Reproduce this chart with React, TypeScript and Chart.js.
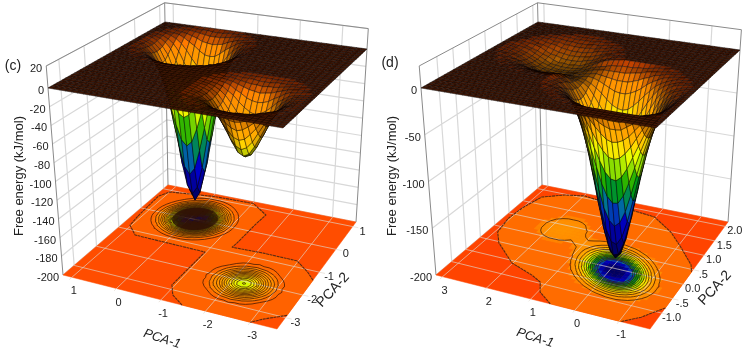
import React, { useEffect, useRef } from "react";
import { Chart, registerables } from "chart.js";
Chart.register(...registerables);

// ---------- axis ticks ----------
const zTicksC = [20, 0, -20, -40, -60, -80, -100, -120, -140, -160, -180, -200];
const zTicksD = [0, -50, -100, -150, -200];
const pca1TicksC = [1, 0, -1, -2, -3];
const pca2TicksC = [1, 0, -1, -2, -3];
const pca1TicksD = [3, 2, 1, 0, -1];
const pca2TicksD = [2, 1.5, 1, 0.5, 0, -0.5, -1];
const pca2LabelsD = ["2.0", "1.5", "1.0", ".5", "0.0", "-.5", "-1.0"];

// ---------- free-energy wells, depth in kJ/mol (offsets from each well's centre) ----------
const wellDeepC = [
  [178, 168, 143, 108, 73, 44, 24, 12, 5, 2],
  [168, 159, 135, 102, 69, 42, 23, 11, 5, 2],
  [143, 135, 113, 86, 58, 35, 19, 10, 4, 1],
  [108, 102, 86, 65, 44, 27, 14, 7, 3, 1],
  [73, 69, 58, 44, 30, 18, 10, 5, 2, 1],
  [44, 42, 35, 27, 18, 11, 6, 3, 1, 0],
  [24, 23, 19, 14, 10, 6, 3, 2, 1, 0],
  [12, 11, 10, 7, 5, 3, 2, 1, 0, 0],
  [5, 5, 4, 3, 2, 1, 1, 0, 0, 0],
  [2, 2, 1, 1, 1, 0, 0, 0, 0, 0],
];
const wellShallowC = [
  [66, 63, 54, 42, 30, 19, 11, 6, 3, 1],
  [63, 60, 51, 40, 28, 18, 10, 5, 3, 1],
  [54, 51, 44, 34, 24, 16, 9, 5, 2, 1],
  [42, 40, 34, 27, 19, 12, 7, 4, 2, 1],
  [30, 28, 24, 19, 13, 9, 5, 3, 2, 1],
  [19, 18, 16, 12, 9, 5, 3, 2, 1, 0],
  [11, 10, 9, 7, 5, 3, 2, 1, 1, 0],
  [6, 5, 5, 4, 3, 2, 1, 1, 0, 0],
  [3, 3, 2, 2, 2, 1, 1, 0, 0, 0],
  [1, 1, 1, 1, 1, 0, 0, 0, 0, 0],
];
const wellMainDSameSign = [
  [186, 180, 163, 138, 110, 82, 57, 37, 23, 13, 7, 4],
  [180, 170, 151, 126, 98, 71, 49, 31, 19, 10, 5, 3],
  [163, 151, 131, 107, 81, 58, 39, 24, 14, 8, 4, 2],
  [138, 126, 107, 85, 63, 44, 29, 18, 10, 5, 3, 1],
  [110, 98, 81, 63, 46, 32, 20, 12, 7, 4, 2, 1],
  [82, 71, 58, 44, 32, 21, 13, 8, 4, 2, 1, 0],
  [57, 49, 39, 29, 20, 13, 8, 5, 3, 1, 1, 0],
  [37, 31, 24, 18, 12, 8, 5, 3, 1, 1, 0, 0],
  [23, 19, 14, 10, 7, 4, 3, 1, 1, 0, 0, 0],
  [13, 10, 8, 5, 4, 2, 1, 1, 0, 0, 0, 0],
  [7, 5, 4, 3, 2, 1, 1, 0, 0, 0, 0, 0],
  [4, 3, 2, 1, 1, 0, 0, 0, 0, 0, 0, 0],
];
const wellMainDOppositeSign = [
  [186, 180, 163, 138, 110, 82, 57, 37, 23, 13, 7, 4],
  [180, 178, 165, 143, 116, 88, 63, 42, 26, 15, 8, 4],
  [163, 165, 156, 138, 115, 89, 64, 44, 28, 17, 9, 5],
  [138, 143, 138, 125, 106, 84, 62, 43, 28, 17, 10, 5],
  [110, 116, 115, 106, 91, 74, 56, 40, 27, 17, 10, 5],
  [82, 88, 89, 84, 74, 61, 48, 35, 23, 15, 9, 5],
  [57, 63, 64, 62, 56, 48, 38, 28, 19, 13, 8, 4],
  [37, 42, 44, 43, 40, 35, 28, 21, 15, 10, 6, 4],
  [23, 26, 28, 28, 27, 23, 19, 15, 11, 7, 5, 3],
  [13, 15, 17, 17, 17, 15, 13, 10, 7, 5, 3, 2],
  [7, 8, 9, 10, 10, 9, 8, 6, 5, 3, 2, 1],
  [4, 4, 5, 5, 5, 5, 4, 4, 3, 2, 1, 1],
];
const wellBasinD = [
  [20, 20, 19, 18, 15, 12, 9, 6, 4, 2, 1],
  [20, 20, 19, 17, 15, 12, 9, 6, 4, 2, 1],
  [19, 19, 18, 17, 14, 11, 8, 5, 3, 2, 1],
  [18, 17, 17, 15, 12, 10, 7, 5, 3, 1, 0],
  [15, 15, 14, 12, 11, 8, 5, 3, 2, 1, 0],
  [12, 12, 11, 10, 8, 6, 4, 3, 1, 0, 0],
  [9, 9, 8, 7, 5, 4, 3, 1, 1, 0, 0],
  [6, 6, 5, 5, 3, 3, 1, 1, 0, 0, 0],
  [4, 4, 3, 3, 2, 1, 1, 0, 0, 0, 0],
  [2, 2, 2, 1, 1, 0, 0, 0, 0, 0, 0],
  [1, 1, 1, 0, 0, 0, 0, 0, 0, 0, 0],
];

// ---------- the irregular outermost floor contour (PCA-1, PCA-2) ----------
const contourPca1C = [-1.47, -1.13, -0.94, -0.97, 0.53, 0.72, 1.03, 1.08, 1.13, 1.0, -0.02, -1.02, -1.51, -1.47, -1.44, -1.42, -2.15, -2.97, -3.37, -3.6, -3.6, -3.2, -3.0];
const contourPca2C = [-3.5, -3.2, -2.82, -1.22, -1.18, -1.17, -0.82, -0.34, 0.64, 0.92, 1.1, 1.13, 0.77, 0.29, -0.59, -0.79, -0.75, -0.76, -1.1, -1.36, -2.9, -3.26, -3.5];
const contourPca1D = [0.56, 0.95, 1.13, 1.41, 2.02, 2.68, 2.94, 3.04, 3.0, 2.86, 2.43, 1.98, 1.26, 0.49, 0.03, -0.6, -1.07, -1.58, -1.7, -1.7, -1.36, -1.04];
const contourPca2D = [-1.55, -1.27, -0.96, -0.81, -0.58, -0.04, 0.3, 0.82, 1.28, 1.75, 1.97, 2.07, 1.98, 1.9, 1.85, 1.49, 1.1, 0.63, 0.42, -0.82, -1.27, -1.55];

const levelsC = [5, 10, 15, 20, 25, 30, 35, 40, 45, 50, 55, 60, 65, 67.5, 70, 72.5, 75, 77.5, 80, 82.5, 85, 87.5, 90, 92.5, 95, 97.5, 100, 102.5, 105, 107.5, 110, 112.5, 115, 117.5, 120, 122.5, 125, 127.5, 130, 132.5, 135, 137.5, 140, 142.5, 145, 147.5, 150, 152.5, 155, 157.5, 160, 162.5, 165, 167.5, 170, 172.5, 175];
const levelsD = [15, 25, 35, 45, 55, 65, 75, 85, 95, 105, 115, 125];

// ---------- colour map: depth, colour ----------
const cmapDepth = [0, 5, 10, 15, 30, 40, 50, 60, 75, 95, 120, 135, 175];
const cmapColor = [[255, 77, 0], [255, 98, 0], [255, 116, 0], [255, 140, 0], [255, 160, 0], [255, 184, 0], [255, 224, 0], [232, 255, 0], [144, 224, 0], [0, 160, 0], [0, 112, 160], [0, 0, 200], [0, 0, 96]];

const CELLS = 40;
type P = { x: number; y: number };
type Q = { L: P; F: P; B: P; R: P };

function makeGrid(): number[][] {
  const g: number[][] = [];
  for (let i = 0; i <= CELLS; i++) g.push(new Array(CELLS + 1).fill(0));
  return g;
}
function stamp(g: number[][], ci: number, cj: number, table: number[][], opposite?: number[][]) {
  const n = table.length - 1;
  for (let di = -n; di <= n; di++)
    for (let dj = -n; dj <= n; dj++) {
      const t = opposite && di * dj < 0 ? opposite : table;
      const i = ci + di, j = cj + dj;
      if (i >= 0 && j >= 0 && i <= CELLS && j <= CELLS) g[i][j] += t[Math.abs(di)][Math.abs(dj)];
    }
}
const gridC = makeGrid();
stamp(gridC, 11, 30, wellDeepC);
stamp(gridC, 29, 12, wellShallowC);
const gridD = makeGrid();
stamp(gridD, 27, 16, wellMainDSameSign, wellMainDOppositeSign);
stamp(gridD, 12, 26, wellBasinD);

const panels = [
  {
    view: [0, 374], grid: gridC,
    floor: { L: { x: 63, y: 275 }, F: { x: 277, y: 329 }, B: { x: 168, y: 185 }, R: { x: 356, y: 222 } } as Q,
    plane: { L: { x: 48, y: 88 }, F: { x: 283, y: 128 }, B: { x: 165, y: 22 }, R: { x: 367, y: 49 } } as Q,
    xMax: 1.2, xSpan: 4.8, yMin: -3.5, ySpan: 4.7,
    zTicks: zTicksC, zGrid: zTicksC, xTicks: pca1TicksC, yTicks: pca2TicksC, yLabels: pca2TicksC.map(String),
    cx: contourPca1C, cy: contourPca2C, split: 20, levels: levelsC, base: "#FF4D00", light: "#FF6200", minCell: 5,
    tag: "(c)", tagPos: [13, 66], zLab: [19, 176], xLab: [162, 339], yLab: [333, 290],
  },
  {
    view: [374, 748], grid: gridD,
    floor: { L: { x: 436, y: 275 }, F: { x: 650, y: 329 }, B: { x: 542, y: 185 }, R: { x: 728, y: 222 } } as Q,
    plane: { L: { x: 421, y: 88 }, F: { x: 656, y: 128 }, B: { x: 538, y: 22 }, R: { x: 740, y: 50 } } as Q,
    xMax: 3.15, xSpan: 4.85, yMin: -1.55, ySpan: 3.7,
    zTicks: zTicksD, zGrid: zTicksD, xTicks: pca1TicksD, yTicks: pca2TicksD, yLabels: pca2LabelsD,
    cx: contourPca1D, cy: contourPca2D, split: 19, levels: levelsD, base: "#FF4400", light: "#FF6C00", minCell: 13,
    tag: "(d)", tagPos: [390, 63], zLab: [392, 176], xLab: [535, 338], yLab: [715, 288],
  },
];
type Panel = (typeof panels)[number];

function bil(q: Q, a: number, b: number): P {
  const k = { x: q.R.x - q.F.x - q.B.x + q.L.x, y: q.R.y - q.F.y - q.B.y + q.L.y };
  return {
    x: q.L.x + a * (q.F.x - q.L.x) + b * (q.B.x - q.L.x) + a * b * k.x,
    y: q.L.y + a * (q.F.y - q.L.y) + b * (q.B.y - q.L.y) + a * b * k.y,
  };
}
function project(p: Panel, a: number, b: number, z: number): P {
  const f = bil(p.floor, a, b), t = bil(p.plane, a, b);
  const k = z > 0 ? (-z / 200) * 1.18 : -z / 200;
  return { x: t.x + (f.x - t.x) * k, y: t.y + (f.y - t.y) * k };
}
const aOf = (p: Panel, v: number) => (p.xMax - v) / p.xSpan;
const bOf = (p: Panel, v: number) => (v - p.yMin) / p.ySpan;

function cmap(d: number): number[] {
  if (d <= 0) return cmapColor[0];
  for (let i = 1; i < cmapDepth.length; i++)
    if (d <= cmapDepth[i]) {
      const t = (d - cmapDepth[i - 1]) / (cmapDepth[i] - cmapDepth[i - 1]);
      return cmapColor[i].map((c, k) => cmapColor[i - 1][k] + (c - cmapColor[i - 1][k]) * t);
    }
  return cmapColor[cmapColor.length - 1];
}
const rgb = (c: number[], m = 0) => `rgb(${c.map((v) => Math.round(v * (1 - m))).join(",")})`;

function line(data: P[], color: string, width: number, extra: object = {}) {
  return { data, borderColor: color, borderWidth: width, fill: false, ...extra };
}
const GAP = { x: NaN, y: NaN };

function buildDatasets(p: Panel) {
  const out: any[] = [];
  const wall = "#d8d8d8", frame = "#8a8a8a";
  const walls: P[] = [];
  const zTop = 20;
  for (const z of p.zGrid) walls.push(project(p, 0, 0, z), project(p, 0, 1, z), project(p, 1, 1, z), GAP);
  for (const y of p.yTicks) walls.push(project(p, 0, bOf(p, y), -200), project(p, 0, bOf(p, y), zTop), GAP);
  for (const x of p.xTicks) walls.push(project(p, aOf(p, x), 1, -200), project(p, aOf(p, x), 1, zTop), GAP);
  out.push(line(walls, wall, 1.2));
  const frm: P[] = [
    project(p, 0, 0, -200), project(p, 0, 0, zTop), project(p, 0, 1, zTop), project(p, 1, 1, zTop), project(p, 1, 1, -200), GAP,
    project(p, 0, 1, -200), project(p, 0, 1, zTop),
  ];
  out.push(line(frm, frame, 1));

  // floor
  const fl = [project(p, 0, 0, -200), project(p, 1, 0, -200), project(p, 1, 1, -200), project(p, 0, 1, -200), project(p, 0, 0, -200)];
  out.push(line(fl, p.base, 0.5, { fill: "shape", backgroundColor: p.base }));
  const poly = p.cx.map((v, i) => project(p, aOf(p, v), bOf(p, p.cy[i]), -200));
  out.push(line(poly.concat([poly[0]]), p.light, 0.5, { fill: "shape", backgroundColor: p.light }));
  const g = p.grid;
  for (let i = 0; i < CELLS; i++)
    for (let j = 0; j < CELLS; j++) {
      const d = (g[i][j] + g[i + 1][j] + g[i][j + 1] + g[i + 1][j + 1]) / 4;
      if (d < p.minCell) continue;
      const c = rgb(cmap(d));
      const pts = [[i, j], [i + 1, j], [i + 1, j + 1], [i, j + 1], [i, j]].map(([u, v]) => project(p, u / CELLS, v / CELLS, -200));
      out.push(line(pts, c, 0.6, { fill: "shape", backgroundColor: c }));
    }
  // floor grid and ticks
  const fg: P[] = [];
  for (const x of p.xTicks) fg.push(project(p, aOf(p, x), -0.025, -200), project(p, aOf(p, x), 1, -200), GAP);
  for (const y of p.yTicks) fg.push(project(p, 0, bOf(p, y), -200), project(p, 1.03, bOf(p, y), -200), GAP);
  out.push(line(fg, "rgba(225,215,205,0.65)", 1));

  // contours
  const segs: P[] = [];
  const pt = (u: number, v: number) => project(p, u / CELLS, v / CELLS, -200);
  for (const lv of p.levels) {
    for (let i = 0; i < CELLS; i++)
      for (let j = 0; j < CELLS; j++) {
        const c = [g[i][j], g[i + 1][j], g[i + 1][j + 1], g[i][j + 1]];
        const hits: P[] = [];
        const corners = [[i, j], [i + 1, j], [i + 1, j + 1], [i, j + 1]];
        for (let e = 0; e < 4; e++) {
          const n = (e + 1) % 4;
          if ((c[e] < lv) !== (c[n] < lv)) {
            const t = (lv - c[e]) / (c[n] - c[e]);
            hits.push(pt(corners[e][0] + (corners[n][0] - corners[e][0]) * t, corners[e][1] + (corners[n][1] - corners[e][1]) * t));
          }
        }
        if (hits.length >= 2) segs.push(hits[0], hits[1], GAP);
        if (hits.length === 4) segs.push(hits[2], hits[3], GAP);
      }
  }
  out.push(line(segs, "rgba(50,20,5,0.9)", 0.8));
  out.push(line(poly.slice(0, p.split), "#5c2a12", 1.1, { borderDash: [3, 0.6] }));
  out.push(line(poly.slice(p.split), "#5c2a12", 1.1, { borderDash: [3, 0.6] }));

  // surface, painted far to near
  for (let i = 0; i < CELLS; i++)
    for (let j = CELLS - 1; j >= 0; j--) {
      const ds = [g[i][j], g[i + 1][j], g[i + 1][j + 1], g[i][j + 1]];
      const pts = [[i, j], [i + 1, j], [i + 1, j + 1], [i, j + 1]].map(([u, v], k) => project(p, u / CELLS, v / CELLS, -ds[k]));
      let area = 0;
      for (let k = 0; k < 4; k++) {
        const n = (k + 1) % 4;
        area += pts[k].x * pts[n].y - pts[n].x * pts[k].y;
      }
      area = Math.abs(area) / 2;
      const mean = (ds[0] + ds[1] + ds[2] + ds[3]) / 4;
      const m = Math.max(0, Math.min(0.72, (50 - area) / 60));
      const col = rgb(mean === 0 ? [170, 60, 14] : cmap(mean), m);
      out.push(line(pts.concat([pts[0]]), "rgba(10,3,0,0.82)", 0.55, { fill: "shape", backgroundColor: col }));
    }
  return out.reverse();
}

function textPlugin(p: Panel) {
  return {
    id: "axisText",
    afterDatasetsDraw(chart: any) {
      const { ctx, scales } = chart;
      const X = (v: number) => scales.x.getPixelForValue(v);
      const Y = (v: number) => scales.y.getPixelForValue(v);
      const put = (s: string, x: number, y: number, font: string, rot = 0, align: CanvasTextAlign = "center") => {
        ctx.save();
        ctx.translate(X(x), Y(y));
        ctx.rotate((rot * Math.PI) / 180);
        ctx.font = font;
        ctx.fillStyle = "#222";
        ctx.textAlign = align;
        ctx.textBaseline = "middle";
        ctx.fillText(s, 0, 0);
        ctx.restore();
      };
      const tick = '11px "Liberation Sans"';
      for (const z of p.zTicks) {
        const q = project(p, 0, 0, z);
        put(String(z), q.x - 4, q.y + 3, tick, 0, "right");
      }
      for (const v of p.xTicks) {
        const q = project(p, aOf(p, v), 0, -200);
        put(String(v), q.x + 2, q.y + 14, tick);
      }
      p.yTicks.forEach((v, i) => {
        const q = project(p, 1, bOf(p, v), -200);
        put(p.yLabels[i], q.x + 10, q.y + 5, tick);
      });
      put(p.tag, p.tagPos[0], p.tagPos[1], '14px "Liberation Sans"');
      put("Free energy (kJ/mol)", p.zLab[0], p.zLab[1], '13px "Liberation Sans"', -90);
      put("PCA-1", p.xLab[0], p.xLab[1], 'italic 13px "Liberation Sans"', 18);
      put("PCA-2", p.yLab[0], p.yLab[1], '14px "Liberation Sans"', -47);
    },
  };
}

function PanelChart({ p }: { p: Panel }) {
  const ref = useRef<HTMLCanvasElement>(null);
  useEffect(() => {
    const chart = new Chart(ref.current as HTMLCanvasElement, {
      type: "line",
      data: { datasets: buildDatasets(p) },
      options: {
        animation: false,
        responsive: false,
        devicePixelRatio: 1,
        events: [],
        layout: { padding: 0 },
        elements: { point: { radius: 0 }, line: { tension: 0, borderJoinStyle: "round" } },
        plugins: { legend: { display: false }, tooltip: { enabled: false }, title: { display: false } },
        scales: {
          x: { type: "linear", min: p.view[0], max: p.view[1], display: false },
          y: { type: "linear", min: 0, max: 350, reverse: true, display: false },
        },
      } as any,
      plugins: [textPlugin(p)],
    });
    return () => chart.destroy();
  }, [p]);
  return (
    <canvas
      ref={ref}
      width={p.view[1] - p.view[0]}
      height={350}
      style={{ position: "absolute", left: p.view[0], top: 0, width: p.view[1] - p.view[0], height: 350 }}
    />
  );
}

export default function App() {
  return (
    <div style={{ position: "absolute", left: 0, top: 0, width: 748, height: 350, background: "#fff", overflow: "hidden" }}>
      {panels.map((p) => (
        <PanelChart key={p.tag} p={p} />
      ))}
    </div>
  );
}
